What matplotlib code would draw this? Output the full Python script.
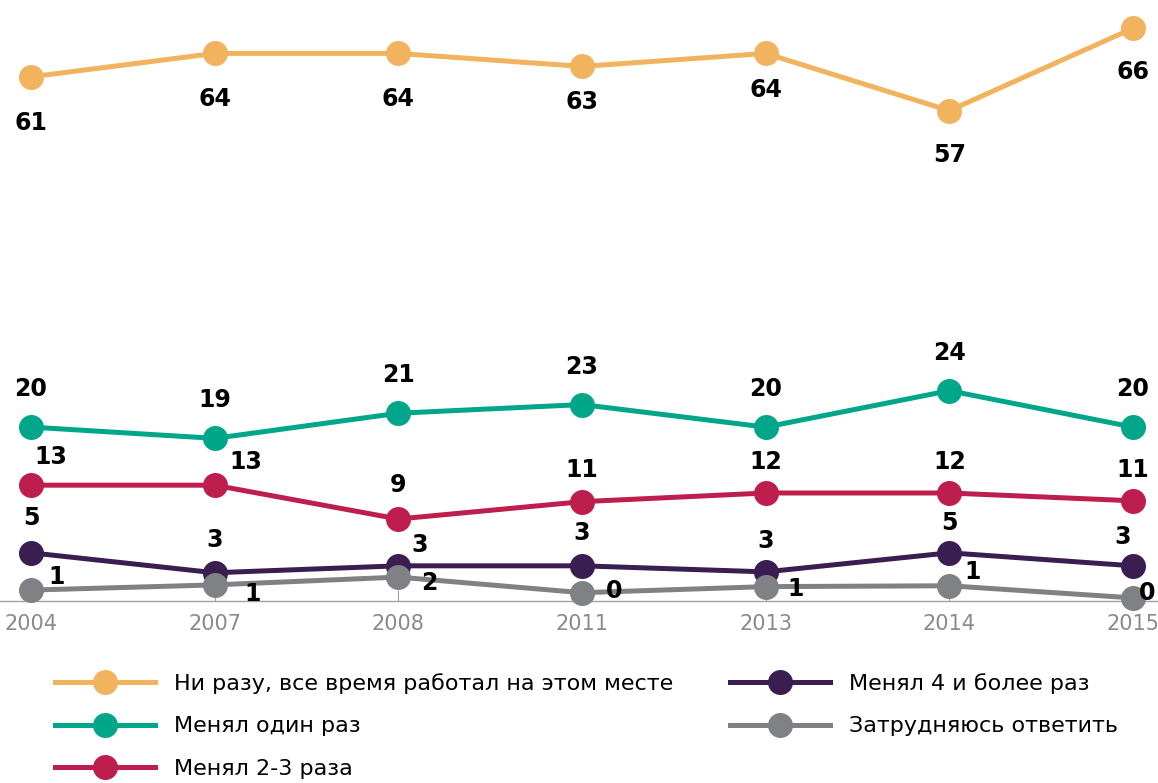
import matplotlib
matplotlib.use('Agg')
import matplotlib.pyplot as plt

plt.rcParams['font.family'] = ['DejaVu Sans']

#data
years = ['2004', '2007', '2008', '2011', '2013', '2014', '2015']

never = [60.4, 63.1, 63.1, 61.6, 63.1, 56.5, 66.0]
once = [20.0, 18.7, 21.6, 22.6, 20.0, 24.2, 20.0]
two_three = [13.3, 13.3, 9.4, 11.4, 12.4, 12.4, 11.5]
four_more = [5.5, 3.2, 4.0, 4.0, 3.3, 5.5, 4.0]
no_answer = [1.2, 1.8, 2.7, 0.9, 1.6, 1.7, 0.3]

never_lbl = ['61', '64', '64', '63', '64', '57', '66']
once_lbl = ['20', '19', '21', '23', '20', '24', '20']
two_three_lbl = ['13', '13', '9', '11', '12', '12', '11']
four_more_lbl = ['5', '3', '3', '3', '3', '5', '3']
no_answer_lbl = ['1', '1', '2', '0', '1', '1', '0']

names = ['Ни разу, все время работал на этом месте', 'Менял один раз',
         'Менял 2-3 раза', 'Менял 4 и более раз', 'Затрудняюсь ответить']
colors = ['#F2B35E', '#00A68A', '#BE1E4D', '#3A1E52', '#808185']

# label offsets in pixels (dx, dy), per point
offs_never = [(0, -46), (0, -46), (0, -46), (0, -36), (0, -37), (0, -44), (0, -44)]
offs_once = [(0, 38)] * 7
offs_two = [(20, 28), (31, 23), (0, 34), (0, 32), (0, 31), (0, 31), (0, 31)]
offs_four = [(0, 35), (0, 33), (21, 21), (0, 33), (0, 31), (0, 30), (-10, 29)]
offs_none = [(26, 13), (38, -9), (31, -6), (32, 2), (30, -2), (23, 14), (14, 5)]

series = [never, once, two_three, four_more, no_answer]
labels = [never_lbl, once_lbl, two_three_lbl, four_more_lbl, no_answer_lbl]
offsets = [offs_never, offs_once, offs_two, offs_four, offs_none]

W, H = 1158, 783
fig = plt.figure(figsize=(W / 100, H / 100), dpi=100)
ax = fig.add_axes([0, (H - 600.5) / H, 1, 600.5 / H])

x = list(range(len(years)))
handles = []
for i, vals in enumerate(series):
  ln, = ax.plot(x, vals, color=colors[i], lw=3.6, marker='o', ms=18,
                mec='none', clip_on=False, zorder=2 + i, label=names[i])
  handles.append(ln)
  for j, v in enumerate(vals):
    dx, dy = offsets[i][j]
    ax.annotate(labels[i][j], (j, v), xytext=(dx, dy), textcoords='offset pixels',
                ha='center', va='center', fontsize=17, fontweight='bold',
                color='black', zorder=10, annotation_clip=False)

ax.set_xlim(-31 / 183.67, 6 + 25 / 183.67)
ax.set_ylim(0, 600.5 / 8.67)
ax.set_xticks(x)
ax.set_xticklabels(years)
ax.set_yticks([])
for s in ['top', 'left', 'right']:
  ax.spines[s].set_visible(False)
ax.spines['bottom'].set_color('#A0A0A0')
ax.spines['bottom'].set_linewidth(1)
ax.tick_params(axis='x', direction='in', length=8, color='#A0A0A0',
               labelsize=15, labelcolor='#8A8A8A', pad=10)
ax.patch.set_visible(False)

leg_kw = dict(frameon=False, fontsize=16, handlelength=4.5, handletextpad=0.85,
              borderpad=0, borderaxespad=0, labelspacing=1.02, numpoints=1,
              loc='upper left')
leg1 = fig.legend(handles[:3], names[:3], bbox_to_anchor=(55 / W, 1 - 673 / H), **leg_kw)
leg2 = fig.legend(handles[3:], names[3:], bbox_to_anchor=(730 / W, 1 - 673 / H), **leg_kw)

fig.savefig('out.png', dpi=100)
